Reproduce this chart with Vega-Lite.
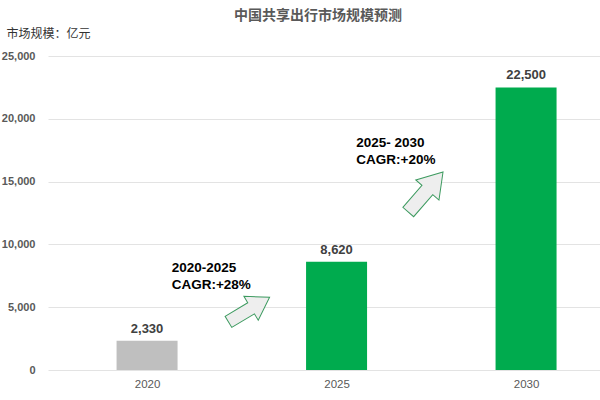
{
  "$schema": "https://vega.github.io/schema/vega-lite/v6.json",
  "autosize": "none",
  "padding": {"left": 48, "top": 56, "right": 0, "bottom": 30},
  "width": 552,
  "height": 314,
  "background": "white",
  "title": {
    "text": "中国共享出行市场规模预测",
    "font": "Noto Sans CJK SC",
    "fontSize": 14,
    "fontWeight": "bold",
    "color": "#595959",
    "anchor": "middle",
    "dx": -6,
    "offset": 4
  },
  "config": {
    "view": {"stroke": null},
    "font": "Liberation Sans"
  },
  "datasets": {
    "market": [
      {"year": 2020, "value": 2330, "kind": "actual"},
      {"year": 2025, "value": 8620, "kind": "forecast"},
      {"year": 2030, "value": 22500, "kind": "forecast"}
    ],
    "notes": [
      {"year": 2020.65, "value": 8121, "label": "2020-2025\nCAGR:+28%"},
      {"year": 2025.52, "value": 18113, "label": "2025- 2030\nCAGR:+20%"}
    ],
    "arrow1": [{"year": 2022.69, "value": 4817}],
    "arrow2": [{"year": 2027.35, "value": 14172}]
  },
  "encoding": {
    "x": {
      "field": "year",
      "type": "quantitative",
      "scale": {"domain": [2017.518, 2031.819], "nice": false, "zero": false},
      "axis": {
        "values": [2020, 2025, 2030],
        "format": "d",
        "title": null,
        "grid": false,
        "domain": false,
        "ticks": false,
        "labelFont": "Liberation Sans",
        "labelFontSize": 11.5,
        "labelColor": "#595959",
        "labelPadding": 8
      }
    },
    "y": {
      "field": "value",
      "type": "quantitative",
      "scale": {"domain": [0, 25000], "nice": false},
      "axis": {
        "values": [0, 5000, 10000, 15000, 20000, 25000],
        "format": ",.0f",
        "title": "市场规模：亿元",
        "titleFont": "Noto Sans CJK SC",
        "titleFontSize": 12,
        "titleFontWeight": "normal",
        "titleColor": "#333333",
        "titleAngle": 0,
        "titleAlign": "left",
        "titleBaseline": "middle",
        "titleX": -42,
        "titleY": -23,
        "domain": false,
        "ticks": false,
        "gridColor": "#e3e3e3",
        "gridWidth": 1,
        "labelFont": "Liberation Sans",
        "labelFontSize": 11,
        "labelFontWeight": "bold",
        "labelColor": "#595959",
        "labelPadding": 13
      }
    }
  },
  "layer": [
    {
      "data": {"name": "market"},
      "mark": {"type": "bar", "width": 61},
      "encoding": {
        "color": {
          "field": "kind",
          "type": "nominal",
          "scale": {"domain": ["actual", "forecast"], "range": ["#bfbfbf", "#00ab4e"]},
          "legend": null
        }
      }
    },
    {
      "data": {"name": "market"},
      "mark": {
        "type": "text",
        "baseline": "bottom",
        "dy": -5,
        "fontSize": 13,
        "fontWeight": "bold",
        "color": "#404040"
      },
      "encoding": {
        "text": {"field": "value", "type": "quantitative", "format": ","}
      }
    },
    {
      "data": {"name": "notes"},
      "mark": {
        "type": "text",
        "align": "left",
        "baseline": "middle",
        "lineBreak": "\n",
        "lineHeight": 17,
        "fontSize": 13.5,
        "fontWeight": "bold",
        "color": "#000000"
      },
      "encoding": {
        "text": {"field": "label"}
      }
    },
    {
      "data": {"name": "arrow1"},
      "mark": {
        "type": "point",
        "shape": "M -1 -0.27 L 0.1 -0.27 L 0.1 -0.58 L 1 0 L 0.1 0.58 L 0.1 0.27 L -1 0.27 Z",
        "filled": true,
        "fill": "#eeeeee",
        "stroke": "#3c9a5f",
        "strokeWidth": 1,
        "opacity": 1,
        "fillOpacity": 1,
        "size": 2304,
        "angle": 329
      }
    },
    {
      "data": {"name": "arrow2"},
      "mark": {
        "type": "point",
        "shape": "M -1 -0.27 L 0.1 -0.27 L 0.1 -0.58 L 1 0 L 0.1 0.58 L 0.1 0.27 L -1 0.27 Z",
        "filled": true,
        "fill": "#eeeeee",
        "stroke": "#3c9a5f",
        "strokeWidth": 1,
        "opacity": 1,
        "fillOpacity": 1,
        "size": 2809,
        "angle": 311
      }
    }
  ]
}
